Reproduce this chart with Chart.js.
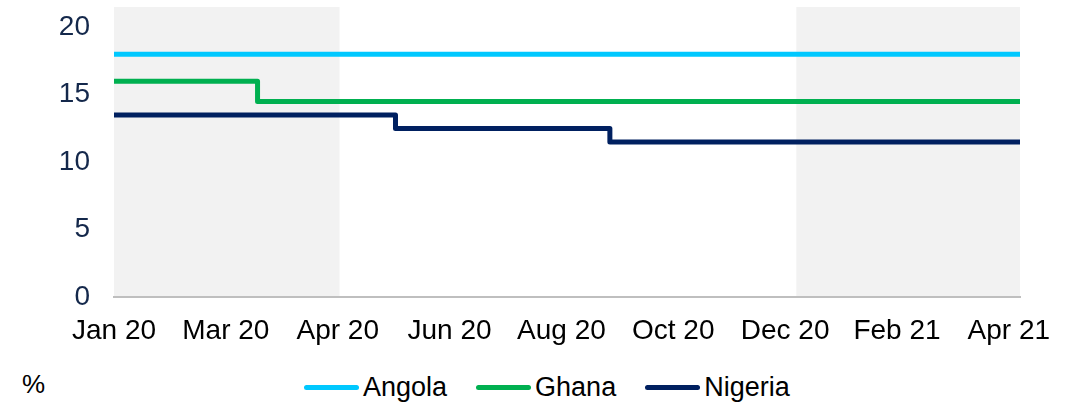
<!DOCTYPE html>
<html>
<head>
<meta charset="utf-8">
<script src="https://cdn.jsdelivr.net/npm/chart.js@4/dist/chart.umd.min.js"></script>
<style>
  body { margin: 0; background: #fff; font-family: "Liberation Sans", Arial, sans-serif; }
  #wrap { position: relative; width: 1073px; height: 407px; }
  #box { position: absolute; left: 0; top: 0; width: 1073px; height: 355px; }
  #unit { position: absolute; left: 22px; top: 369px; font-size: 26px; color: #000; }
  #legend { position: absolute; left: 304px; top: 372px; display: flex; align-items: center; font-size: 27px; color: #000; }
  .item { display: flex; align-items: center; margin-right: 29px; }
  .swatch { width: 55px; height: 5px; border-radius: 3px; margin-right: 4px; }
</style>
</head>
<body>
<div id="wrap">
  <div id="box"><canvas id="chart"></canvas></div>
  <div id="unit">%</div>
  <div id="legend"></div>
</div>
<script>
// policy rates (%), each value holds from its date onward
const angolaDates = ['2020-01-01', '2021-05-01'];
const angolaRates = [18, 18];
const ghanaDates = ['2020-01-01', '2020-03-18', '2021-05-01'];
const ghanaRates = [16, 14.5, 14.5];
const nigeriaDates = ['2020-01-01', '2020-05-31', '2020-09-23', '2021-05-01'];
const nigeriaRates = [13.5, 12.5, 11.5, 11.5];

const seriesNames = ['Angola', 'Ghana', 'Nigeria'];
const seriesColors = ['#00c8ff', '#00b050', '#002060'];

const tickLabels = ['Jan 20', 'Mar 20', 'Apr 20', 'Jun 20', 'Aug 20', 'Oct 20', 'Dec 20', 'Feb 21', 'Apr 21'];
const yTicks = [0, 5, 10, 15, 20];

// grey shaded periods
const shadeStarts = ['2020-01-01', '2021-01-01'];
const shadeEnds = ['2020-05-01', '2021-05-01'];

const startDate = '2020-01-01';
const endDate = '2021-05-01';

function dayNum(s) {
  return (Date.parse(s + 'T00:00:00Z') - Date.parse(startDate + 'T00:00:00Z')) / 86400000;
}
function toPoints(dates, rates) {
  return dates.map((d, i) => ({ x: dayNum(d), y: rates[i] }));
}

const seriesData = [toPoints(angolaDates, angolaRates), toPoints(ghanaDates, ghanaRates), toPoints(nigeriaDates, nigeriaRates)];

const shading = {
  id: 'shading',
  beforeDraw(chart) {
    const { ctx, chartArea, scales } = chart;
    ctx.save();
    ctx.fillStyle = '#f2f2f2';
    shadeStarts.forEach((s, i) => {
      const x0 = scales.x.getPixelForValue(dayNum(s));
      const x1 = scales.x.getPixelForValue(dayNum(shadeEnds[i]));
      ctx.fillRect(x0, chartArea.top, x1 - x0, chartArea.bottom - chartArea.top);
    });
    ctx.restore();
  }
};

const tickFont = { family: '"Liberation Sans", Arial', size: 28 };

new Chart(document.getElementById('chart'), {
  type: 'line',
  data: {
    datasets: seriesNames.map((name, i) => ({
      label: name,
      data: seriesData[i],
      borderColor: seriesColors[i],
      backgroundColor: seriesColors[i],
      borderWidth: 5,
      borderCapStyle: 'round',
      borderJoinStyle: 'round',
      stepped: true,
      pointRadius: 0,
      fill: false
    }))
  },
  options: {
    responsive: true,
    maintainAspectRatio: false,
    animation: false,
    layout: { padding: { top: 7, right: 53, left: 0, bottom: 0 } },
    plugins: { legend: { display: false }, tooltip: { enabled: false } },
    scales: {
      x: {
        type: 'linear',
        min: 0,
        max: dayNum(endDate),
        grid: { display: false, drawTicks: false },
        border: { display: true, color: '#bfbfbf', width: 2 },
        afterFit: s => { s.height = 58; s.paddingTop = 0; s.paddingBottom = 0; },
        ticks: {
          stepSize: 60,
          includeBounds: false,
          autoSkip: false,
          maxRotation: 0,
          padding: 17,
          color: '#000',
          font: tickFont,
          callback: (v, i) => tickLabels[i]
        }
      },
      y: {
        min: 0,
        max: 21.5,
        grid: { display: false, drawTicks: false },
        border: { display: false },
        afterFit: s => { s.width = 114; s.paddingTop = 0; s.paddingBottom = 0; },
        afterBuildTicks: s => { s.ticks = yTicks.map(v => ({ value: v })); },
        ticks: {
          padding: 24,
          color: '#14284b',
          font: tickFont
        }
      }
    }
  },
  plugins: [shading]
});

const legend = document.getElementById('legend');
seriesNames.forEach((name, i) => {
  const item = document.createElement('div');
  item.className = 'item';
  item.innerHTML = '<span class="swatch" style="background:' + seriesColors[i] + '"></span><span>' + name + '</span>';
  legend.appendChild(item);
});
</script>
</body>
</html>
